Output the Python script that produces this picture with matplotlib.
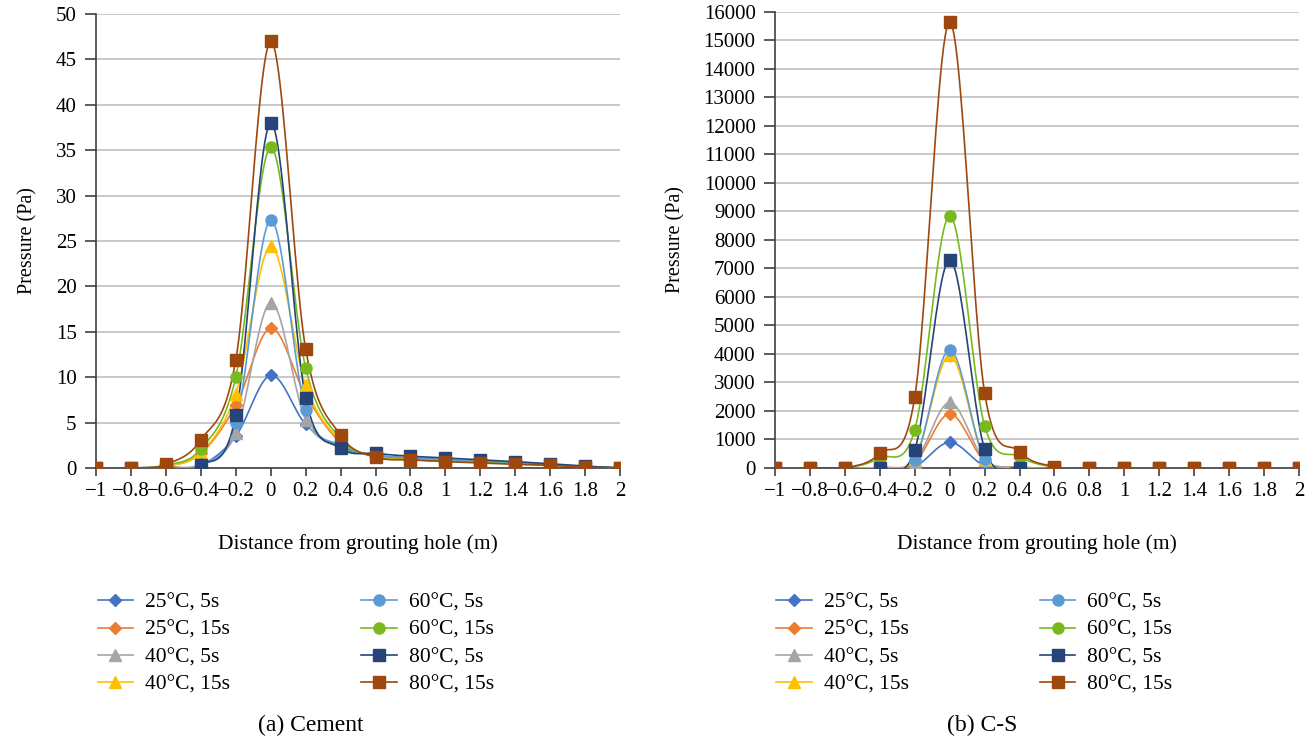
import numpy as np
import matplotlib
matplotlib.use('Agg')
import matplotlib.pyplot as plt
from matplotlib.ticker import FuncFormatter

plt.rcParams.update({
    'font.family': ['Liberation Serif', 'DejaVu Serif'],
    'font.size': 11,
    'axes.unicode_minus': True,
})

# ── Data ──
dist = [-1, -0.8, -0.6, -0.4, -0.2, 0, 0.2, 0.4, 0.6, 0.8, 1.0, 1.2, 1.4, 1.6, 1.8, 2.0]

labels = ["25°C, 5s", "25°C, 15s", "40°C, 5s", "40°C, 15s",
          "60°C, 5s", "60°C, 15s", "80°C, 5s", "80°C, 15s"]

# Cement grout (Pa)
cem_25_5  = [0, 0, 0.1, 0.3, 3.5, 10.2, 4.8, 2.2, 1.4, 1.1, 0.9, 0.7, 0.55, 0.35, 0.15, 0]
cem_25_15 = [0, 0, 0.2, 1.6, 6.9, 15.4, 8.0, 2.8, 1.3, 1.0, 0.8, 0.65, 0.5, 0.3, 0.15, 0]
cem_40_5  = [0, 0, 0.1, 0.4, 3.8, 18.2, 5.3, 2.4, 1.4, 1.1, 0.9, 0.7, 0.55, 0.35, 0.15, 0]
cem_40_15 = [0, 0, 0.2, 1.7, 8.2, 24.4, 9.1, 3.0, 1.3, 1.0, 0.8, 0.65, 0.5, 0.3, 0.15, 0]
cem_60_5  = [0, 0, 0.1, 0.4, 4.9, 27.3, 6.4, 2.5, 1.4, 1.1, 0.9, 0.7, 0.55, 0.35, 0.15, 0]
cem_60_15 = [0, 0, 0.3, 2.1, 10.0, 35.3, 11.0, 3.2, 1.2, 0.9, 0.75, 0.6, 0.45, 0.3, 0.15, 0]
cem_80_5  = [0, 0, 0, 0.3, 5.8, 38.0, 7.7, 2.2, 1.6, 1.3, 1.1, 0.9, 0.7, 0.45, 0.2, 0]
cem_80_15 = [0, 0, 0.4, 3.1, 11.9, 47.0, 13.1, 3.6, 1.2, 0.9, 0.7, 0.55, 0.4, 0.3, 0.1, 0]

# C-S grout (Pa)
cs_25_5  = [0, 0, 0, 0, 50, 900, 80, 0, 0, 0, 0, 0, 0, 0, 0, 0]
cs_25_15 = [0, 0, 0, 20, 200, 1900, 250, 30, 0, 0, 0, 0, 0, 0, 0, 0]
cs_40_5  = [0, 0, 0, 20, 220, 2300, 280, 30, 0, 0, 0, 0, 0, 0, 0, 0]
cs_40_15 = [0, 0, 0, 30, 300, 3950, 330, 40, 0, 0, 0, 0, 0, 0, 0, 0]
cs_60_5  = [0, 0, 0, 0, 280, 4150, 316, 20, 0, 0, 0, 0, 0, 0, 0, 0]
cs_60_15 = [0, 0, 0, 350, 1333, 8850, 1485, 400, 30, 0, 0, 0, 0, 0, 0, 0]
cs_80_5  = [0, 0, 0, 0, 632, 7300, 670, 10, 0, 0, 0, 0, 0, 0, 0, 0]
cs_80_15 = [0, 0, 0, 515, 2480, 15650, 2640, 573, 50, 0, 0, 0, 0, 0, 0, 0]

cement = [cem_25_5, cem_25_15, cem_40_5, cem_40_15, cem_60_5, cem_60_15, cem_80_5, cem_80_15]
cs = [cs_25_5, cs_25_15, cs_40_5, cs_40_15, cs_60_5, cs_60_15, cs_80_5, cs_80_15]

colors = ["#4472C4", "#ED7D31", "#A5A5A5", "#FFC000",
          "#5B9BD5", "#78BA1E", "#264478", "#9E480E"]
markers = ["D", "D", "^", "^", "o", "o", "s", "s"]
msizes = [6.5, 6.5, 8, 8, 8, 8, 8.5, 8.5]


def smooth(xs, ys, n=24):
    """Bezier smoothing through the points (Catmull-Rom style control points)."""
    xs = np.asarray(xs, float)
    ys = np.asarray(ys, float)
    px = np.concatenate([[xs[0]], xs, [xs[-1]]])
    py = np.concatenate([[ys[0]], ys, [ys[-1]]])
    t = np.linspace(0, 1, n)[:, None]
    out_x, out_y = [], []
    for i in range(1, len(px) - 2):
        p1 = np.array([px[i], py[i]])
        p2 = np.array([px[i + 1], py[i + 1]])
        c1 = p1 + (p2 - np.array([px[i - 1], py[i - 1]])) / 6
        c2 = p2 - (np.array([px[i + 2], py[i + 2]]) - p1) / 6
        seg = ((1 - t) ** 3) * p1 + 3 * ((1 - t) ** 2) * t * c1 \
            + 3 * (1 - t) * t ** 2 * c2 + t ** 3 * p2
        out_x.append(seg[:, 0])
        out_y.append(seg[:, 1])
    return np.concatenate(out_x), np.concatenate(out_y)


def fmt_x(v, pos):
    s = f"{v:g}"
    return s.replace("-", "\u2212")


def draw(ax, series, ymax, ystep):
    for ys, c, m, ms, lab in zip(series, colors, markers, msizes, labels):
        sx, sy = smooth(dist, ys)
        ax.plot(sx, sy, color=c, lw=1.2, zorder=3)
        ax.plot(dist, ys, ls="none", marker=m, ms=ms, color=c, zorder=4)
        ax.plot([], [], color=c, lw=1.2, marker=m, ms=ms, label=lab)
    ax.set_xlim(-1, 2)
    ax.set_ylim(0, ymax)
    ax.set_xticks(dist)
    ax.xaxis.set_major_formatter(FuncFormatter(fmt_x))
    ax.set_yticks(np.arange(0, ymax + ystep / 2, ystep))
    ax.grid(True, axis="y", color="#BFBFBF", lw=1.2)
    ax.set_axisbelow(True)
    for s in ("top", "right"):
        ax.spines[s].set_visible(False)
    for s in ("left", "bottom"):
        ax.spines[s].set_color("#404040")
        ax.spines[s].set_linewidth(1.2)
    ax.tick_params(axis="both", direction="out", length=6, width=1.2,
                   color="#404040", labelsize=15, pad=4)
    ax.tick_params(axis="y", length=8, pad=6)
    ax.set_xlabel("Distance from grouting hole (m)", fontsize=15.5, labelpad=24)
    ax.set_ylabel("Pressure (Pa)", fontsize=14.5, labelpad=13)
    for lbl in ax.get_xticklabels():
        lbl.set_clip_on(False)


fig = plt.figure(figsize=(13.14, 7.38), dpi=100)
ax1 = fig.add_axes([0.0731, 0.3659, 0.3988, 0.6152])
ax2 = fig.add_axes([0.5898, 0.3659, 0.3988, 0.6179])

draw(ax1, cement, 50, 5)
draw(ax2, cs, 16000, 1000)

for ax, x0 in ((ax1, 0.0595), (ax2, 0.576)):
    ax.legend(loc="upper left", bbox_to_anchor=(x0, 0.223), bbox_transform=fig.transFigure,
              ncol=2, frameon=False, fontsize=15.5, handlelength=1.65,
              columnspacing=6.1, labelspacing=0.33, handletextpad=0.55)

fig.text(0.2365, 0.01, "(a) Cement", ha="center", fontsize=17)
fig.text(0.7475, 0.01, "(b) C-S", ha="center", fontsize=17)

fig.savefig("out.png", dpi=100)
